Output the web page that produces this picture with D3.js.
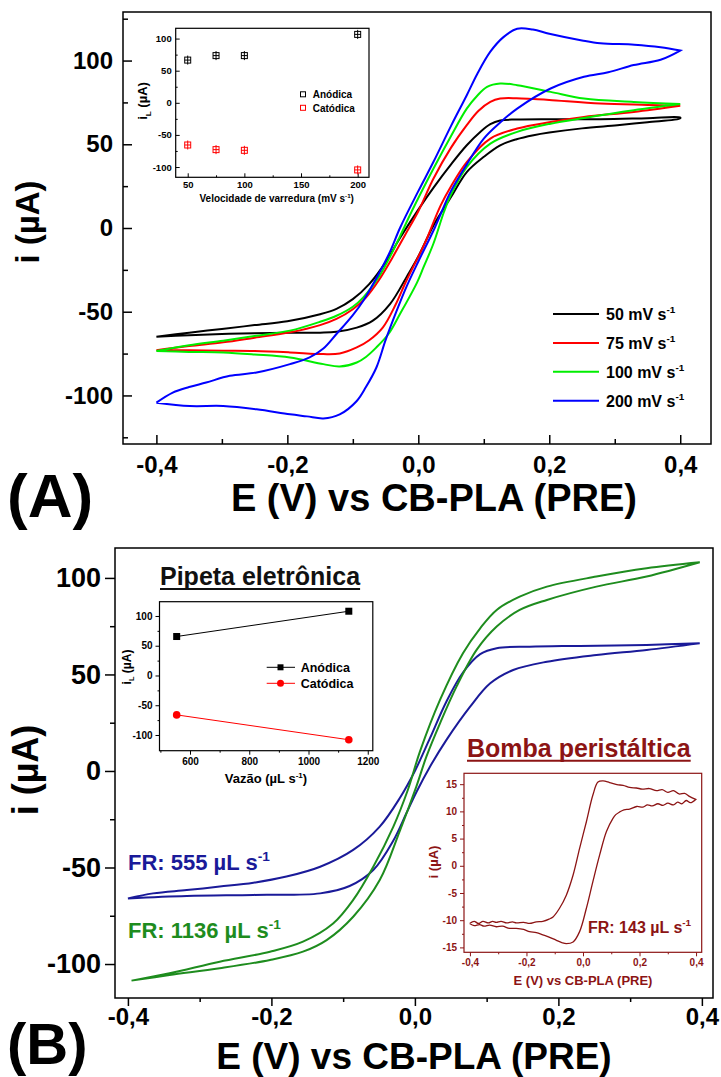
<!DOCTYPE html>
<html><head><meta charset="utf-8">
<script src="https://cdn.jsdelivr.net/npm/d3@7"></script>
<style>
body{margin:0;background:#fff}
svg{display:block}
</style>
</head><body>
<svg id="fig" width="721" height="1077"></svg>
<script>
// ---------- data ----------
// Potential tick values (V) and current ticks (µA)
const potentialTicks = [-0.4, -0.2, 0.0, 0.2, 0.4];
const potentialMinor = [-0.3, -0.1, 0.1, 0.3];
const currentTicks = [-100, -50, 0, 50, 100];
const currentMinorA = [-125, -75, -25, 25, 75, 125];
const currentMinorB = [-75, -25, 25, 75];

// (A) voltammograms at different scan rates: [E (V), i (µA)], forward then reverse branch
const cv50Fwd = [[-0.400,-65],[-0.350,-62.5],[-0.300,-60.3],[-0.250,-58.0],[-0.200,-55.7],[-0.150,-51.5],[-0.125,-48.3],[-0.100,-42.5],[-0.075,-33.5],[-0.050,-20.5],[-0.028,-6],[0.000,11],[0.023,24],[0.050,38],[0.074,49.4],[0.095,57.5],[0.110,62],[0.125,64.2],[0.150,64.8],[0.200,65.0],[0.278,65.0],[0.350,65.6],[0.400,66.0]];
const cv50Rev = [[0.400,65.5],[0.350,63.2],[0.304,61.4],[0.250,59.5],[0.200,57.0],[0.176,55.4],[0.150,53.0],[0.125,49.4],[0.100,42.5],[0.074,33.4],[0.050,18.5],[0.023,1.4],[0.000,-17],[-0.017,-28.6],[-0.043,-45.3],[-0.070,-55.5],[-0.094,-59.5],[-0.125,-62.0],[-0.150,-62.5],[-0.200,-62.6],[-0.250,-62.8],[-0.300,-63.3],[-0.350,-64.0],[-0.400,-65]];
const cv75Fwd = [[-0.400,-73],[-0.350,-70.5],[-0.298,-68.3],[-0.250,-65.5],[-0.196,-62.3],[-0.150,-58],[-0.125,-54.3],[-0.100,-48.5],[-0.080,-41.5],[-0.060,-31],[-0.040,-18],[-0.020,-4],[0.000,10],[0.023,29.4],[0.050,48],[0.074,61.4],[0.092,70],[0.110,75.3],[0.125,77.3],[0.150,77.5],[0.176,77],[0.200,76.5],[0.278,74.3],[0.350,73.5],[0.400,73]];
const cv75Rev = [[0.400,73],[0.329,69.3],[0.253,66.3],[0.202,63.3],[0.151,59.4],[0.110,53.4],[0.074,39.4],[0.050,25],[0.034,13.4],[0.010,-9],[-0.007,-22.6],[-0.020,-33],[-0.035,-46],[-0.054,-59.3],[-0.075,-67],[-0.094,-71.3],[-0.120,-74.9],[-0.145,-75.3],[-0.196,-74.3],[-0.250,-73.5],[-0.298,-73.3],[-0.350,-73],[-0.400,-73]];
const cv100Fwd = [[-0.400,-73.5],[-0.350,-70],[-0.298,-67.3],[-0.250,-64.5],[-0.196,-61.3],[-0.150,-56],[-0.125,-52.4],[-0.100,-47],[-0.084,-41.4],[-0.060,-29],[-0.043,-17],[-0.028,-5],[-0.010,10],[0.023,35.4],[0.050,55],[0.074,71.3],[0.090,79],[0.105,84.3],[0.125,86.3],[0.151,85.3],[0.202,81.3],[0.253,77.3],[0.329,75.3],[0.400,74]];
const cv100Rev = [[0.400,74],[0.329,70.3],[0.253,65.7],[0.202,62.3],[0.151,57.4],[0.110,50.4],[0.074,36.4],[0.050,20],[0.039,9.4],[0.023,-9.4],[0.008,-23.4],[-0.002,-32.6],[-0.028,-51.4],[-0.045,-63],[-0.064,-71.3],[-0.080,-77],[-0.094,-80.3],[-0.120,-82.7],[-0.145,-81.3],[-0.196,-77.3],[-0.250,-75.5],[-0.298,-74.3],[-0.350,-74],[-0.400,-73.5]];
const cv200Fwd = [[-0.400,-104.3],[-0.375,-98.3],[-0.350,-95],[-0.324,-92.3],[-0.288,-88.3],[-0.247,-86.3],[-0.196,-81.3],[-0.166,-77.3],[-0.145,-72],[-0.125,-63.3],[-0.100,-52],[-0.084,-43.4],[-0.060,-27],[-0.043,-14],[-0.028,0],[0.000,22],[0.023,39.4],[0.050,61],[0.074,79.3],[0.090,92],[0.110,105.3],[0.130,114],[0.151,119],[0.175,118.5],[0.200,116],[0.250,112],[0.278,110.3],[0.330,109.5],[0.370,108],[0.400,106]];
const cv200Rev = [[0.400,106],[0.370,100.5],[0.329,97.3],[0.290,93],[0.253,90.3],[0.202,83.3],[0.151,71.3],[0.125,63],[0.100,53.4],[0.074,38],[0.049,21.4],[0.025,0],[0.000,-20],[-0.018,-35],[-0.033,-49.4],[-0.050,-67],[-0.064,-83.3],[-0.080,-95],[-0.094,-103.3],[-0.120,-111.3],[-0.145,-113.7],[-0.170,-112.5],[-0.196,-111.3],[-0.247,-108.3],[-0.298,-106.3],[-0.349,-106.3],[-0.400,-104.3]];

const scanLabels = ["50", "75", "100", "200"];
const scanColors = ["#000000", "#ff0000", "#00ee00", "#0000ff"];

// (A) inset: limiting currents vs scan rate
const scanRates = [50, 75, 100, 200];
const anodicByRate = [66.5, 73.5, 73.5, 106.5];
const cathodicByRate = [-65.7, -72.9, -74, -104.5];
const rateTicks = [50, 100, 150, 200];
const rateMinor = [75, 125, 175];
const insetCurrentTicks = [-100, -50, 0, 50, 100];
const insetCurrentMinor = [-75, -25, 25, 75];

// (B) voltammograms at two flow rates (electronic pipette)
const fr555Fwd = [[-0.400,-66],[-0.365,-63.4],[-0.318,-61.7],[-0.272,-59.9],[-0.225,-57.9],[-0.179,-54.7],[-0.132,-49.6],[-0.086,-40.9],[-0.049,-28.8],[-0.021,-14],[0.000,0],[0.021,17],[0.044,36],[0.067,51],[0.091,60.5],[0.114,63.6],[0.160,64.4],[0.230,64.8],[0.323,65.3],[0.397,66.1]];
const fr555Rev = [[0.397,66.1],[0.323,62.7],[0.253,60.1],[0.184,56.6],[0.137,52.3],[0.105,45.4],[0.077,33.3],[0.044,16.1],[0.021,2.2],[0.002,-11],[-0.012,-22],[-0.030,-36],[-0.058,-51.3],[-0.091,-59.6],[-0.132,-63.4],[-0.225,-64.2],[-0.318,-64.8],[-0.400,-66]];
const fr1136Fwd = [[-0.395,-108.6],[-0.342,-104.8],[-0.272,-98.8],[-0.202,-93.6],[-0.156,-88.4],[-0.114,-79],[-0.086,-66.8],[-0.058,-49.6],[-0.030,-28.8],[-0.010,-10],[0.007,10],[0.035,36.8],[0.067,61],[0.091,73.9],[0.114,83.4],[0.146,90.3],[0.184,95.5],[0.253,100.7],[0.323,105],[0.397,108.1]];
const fr1136Rev = [[0.397,108.1],[0.323,100.7],[0.253,95.5],[0.184,88.6],[0.146,83.4],[0.114,74.8],[0.086,62.7],[0.058,43.7],[0.035,24.7],[0.016,7.4],[0.002,-8.1],[-0.021,-31],[-0.049,-56.5],[-0.086,-75.5],[-0.123,-87.6],[-0.156,-93.6],[-0.202,-97.9],[-0.272,-102.2],[-0.342,-105.7],[-0.395,-108.6]];

// (B) inset: limiting currents vs flow rate
const flowRates = [555, 1136];
const anodicByFlow = [65.5, 108];
const cathodicByFlow = [-66.2, -108];
const flowTicks = [600, 800, 1000, 1200];
const flowMinor = [500, 700, 900, 1100];

// (B) inset: peristaltic pump voltammogram, 143 µL s-1
const fr143Fwd = [[-0.401,-10.6],[-0.385,-10.2],[-0.370,-10.6],[-0.354,-10.2],[-0.335,-10.5],[-0.320,-10.2],[-0.307,-10.4],[-0.290,-10.2],[-0.270,-10.5],[-0.250,-10.3],[-0.236,-10.5],[-0.210,-10.4],[-0.189,-10.6],[-0.165,-10.3],[-0.142,-10.2],[-0.120,-9.8],[-0.106,-9.4],[-0.083,-7.8],[-0.059,-5.4],[-0.035,-1.7],[-0.012,3.2],[0.012,8.1],[0.035,13],[0.053,15.4],[0.071,15.6],[0.094,15.3],[0.120,14.9],[0.142,14.8],[0.165,14.4],[0.189,14.3],[0.210,14.1],[0.235,14.2],[0.260,13.8],[0.280,14.0],[0.300,13.5],[0.320,13.8],[0.340,13.2],[0.360,13.3],[0.378,12.7],[0.399,12.2]];
const fr143Rev = [[0.399,12.2],[0.380,11.6],[0.365,12.0],[0.350,11.4],[0.335,11.7],[0.320,11.2],[0.300,11.5],[0.283,11.1],[0.265,11.4],[0.245,11.0],[0.228,11.2],[0.212,10.8],[0.190,10.9],[0.165,10.4],[0.145,10.3],[0.130,9.9],[0.116,9.4],[0.106,8.7],[0.083,6.3],[0.059,2],[0.035,-2.9],[0.012,-7.8],[-0.012,-12.1],[-0.035,-14],[-0.059,-14.3],[-0.075,-14.1],[-0.094,-13.7],[-0.120,-13.1],[-0.142,-12.7],[-0.165,-12.3],[-0.189,-12.1],[-0.210,-11.7],[-0.236,-11.5],[-0.260,-11.5],[-0.285,-11.1],[-0.307,-11.2],[-0.330,-10.9],[-0.350,-11.1],[-0.366,-10.8],[-0.385,-11.0],[-0.401,-10.6]];
const pumpCurrentTicks = [-15, -10, -5, 0, 5, 10, 15];
const pumpCurrentMinor = [-12.5, -7.5, -2.5, 2.5, 7.5, 12.5];

// ---------- helpers ----------
const FONT = '"Liberation Sans", Arial, Helvetica, sans-serif';
const MAROON = "#8c1414";
const BLUE_B = "#1a1a99";
const GREEN_B = "#1e8c1e";
const commaLocale = d3.formatLocale({decimal: ",", thousands: ".", grouping: [3], currency: ["", ""], minus: "-"});
const fmtComma = commaLocale.format(".1f");
const fmtInt = commaLocale.format("d");

const svg = d3.select("#fig");
svg.append("rect").attr("width", 721).attr("height", 1077).attr("fill", "#fff");

function rich(sel, size, segs) {
  let shift = 0;
  segs.forEach(s => {
    const target = s.sup ? -0.42 * size : (s.sub ? 0.28 * size : 0);
    const ts = sel.append("tspan").text(s.t).attr("dy", target - shift);
    if (s.sup || s.sub) ts.attr("font-size", size * 0.62);
    shift = target;
  });
  return sel;
}

function label(g, x, y, size, segs, opts = {}) {
  const t = g.append("text")
    .attr("font-family", FONT).attr("font-weight", "bold")
    .attr("font-size", size).attr("fill", opts.color || "#000")
    .attr("text-anchor", opts.anchor || "start");
  if (opts.rotate) t.attr("transform", `translate(${x},${y}) rotate(-90)`);
  else t.attr("x", x).attr("y", y);
  return rich(t, size, typeof segs === "string" ? [{t: segs}] : segs);
}

function drawAxis(g, gen, tr, opts) {
  const a = g.append("g").attr("transform", tr).call(gen);
  a.attr("font-family", null).attr("font-size", null);
  a.select(".domain").remove();
  a.selectAll(".tick line").attr("stroke", opts.color || "#000").attr("stroke-width", opts.sw || 1.5);
  a.selectAll(".tick text").attr("fill", opts.color || "#000")
    .attr("font-size", opts.fs || 10).attr("font-family", FONT).attr("font-weight", "bold");
  return a;
}

function frame(g, x, y, color, sw) {
  const [x0, x1] = x.range(), [y0, y1] = y.range();
  g.append("rect").attr("x", x0).attr("y", y1).attr("width", x1 - x0).attr("height", y0 - y1)
    .attr("fill", "none").attr("stroke", color || "#000").attr("stroke-width", sw || 1.5);
}

function loopLine(x, y) {
  return d3.line().x(d => x(d[0])).y(d => y(d[1])).curve(d3.curveCatmullRom.alpha(0.5));
}

function underlinedTitle(g, x, y, size, text, color) {
  const t = label(g, x, y, size, text, {color});
  const w = t.node().getComputedTextLength();
  g.append("line").attr("x1", x).attr("x2", x + w).attr("y1", y + 4).attr("y2", y + 4)
    .attr("stroke", color).attr("stroke-width", 2);
}

// ---------- panel (A) ----------
const gA = svg.append("g");
const xA = d3.scaleLinear().domain([-0.451, 0.447]).range([123, 711]);
const yA = d3.scaleLinear().domain([-129, 129]).range([444, 12]);

drawAxis(gA, d3.axisBottom(xA).tickValues(potentialTicks).tickSize(-9).tickPadding(12).tickFormat(fmtComma), `translate(0,${yA.range()[0]})`, {fs: 24});
drawAxis(gA, d3.axisBottom(xA).tickValues(potentialMinor).tickSize(-5).tickFormat(""), `translate(0,${yA.range()[0]})`, {});
drawAxis(gA, d3.axisLeft(yA).tickValues(currentTicks).tickSize(-9).tickPadding(10).tickFormat(fmtInt), `translate(${xA.range()[0]},0)`, {fs: 24});
drawAxis(gA, d3.axisLeft(yA).tickValues(currentMinorA).tickSize(-5).tickFormat(""), `translate(${xA.range()[0]},0)`, {});

const cvA = [cv50Fwd.concat(cv50Rev), cv75Fwd.concat(cv75Rev), cv100Fwd.concat(cv100Rev), cv200Fwd.concat(cv200Rev)];
const lineA = loopLine(xA, yA);
gA.selectAll("path.cvA").data(cvA).join("path").attr("class", "cvA")
  .attr("d", lineA).attr("fill", "none").attr("stroke", (d, i) => scanColors[i]).attr("stroke-width", 2);

frame(gA, xA, yA);

// legend
const legY = d3.scalePoint().domain(scanLabels).range([314, 400.7]);
scanLabels.forEach((s, i) => {
  gA.append("line").attr("x1", 553).attr("x2", 599).attr("y1", legY(s)).attr("y2", legY(s))
    .attr("stroke", scanColors[i]).attr("stroke-width", 2);
  label(gA, 606, legY(s) + 6, 16, [{t: s + " mV s"}, {t: "-1", sup: true}]);
});

label(gA, 39, 222, 33, "i (µA)", {rotate: true, anchor: "middle"});
label(gA, 434, 511, 38, "E (V) vs CB-PLA (PRE)", {anchor: "middle"});
label(gA, 7, 517, 62, "(A)");

// inset (A)
const gAi = svg.append("g");
const xAi = d3.scaleLinear().domain([39.4, 210]).range([175.7, 369]);
const yAi = d3.scaleLinear().domain([-116, 116]).range([177.3, 28.3]);
drawAxis(gAi, d3.axisBottom(xAi).tickValues(rateTicks).tickSize(-4).tickPadding(4).tickFormat(fmtInt), `translate(0,${yAi.range()[0]})`, {fs: 9.5, sw: 1});
drawAxis(gAi, d3.axisBottom(xAi).tickValues(rateMinor).tickSize(-2).tickFormat(""), `translate(0,${yAi.range()[0]})`, {sw: 1});
drawAxis(gAi, d3.axisLeft(yAi).tickValues(insetCurrentTicks).tickSize(-4).tickPadding(4).tickFormat(fmtInt), `translate(${xAi.range()[0]},0)`, {fs: 9.5, sw: 1});
drawAxis(gAi, d3.axisLeft(yAi).tickValues(insetCurrentMinor).tickSize(-2).tickFormat(""), `translate(${xAi.range()[0]},0)`, {sw: 1});
frame(gAi, xAi, yAi, "#000", 1.2);

function errMarker(g, cx, cy, color) {
  g.append("rect").attr("x", cx - 3).attr("y", cy - 3).attr("width", 6).attr("height", 6)
    .attr("fill", "none").attr("stroke", color).attr("stroke-width", 1);
  g.append("line").attr("x1", cx).attr("x2", cx).attr("y1", cy - 4.5).attr("y2", cy + 4.5).attr("stroke", color).attr("stroke-width", 1);
  g.append("line").attr("x1", cx - 3).attr("x2", cx + 3).attr("y1", cy).attr("y2", cy).attr("stroke", color).attr("stroke-width", 1);
}
scanRates.forEach((r, i) => {
  errMarker(gAi, xAi(r), yAi(anodicByRate[i]), "#000");
  errMarker(gAi, xAi(r), yAi(cathodicByRate[i]), "#ff0000");
});
gAi.append("rect").attr("x", 300.5).attr("y", 91.8).attr("width", 5).attr("height", 5).attr("fill", "none").attr("stroke", "#000").attr("stroke-width", 1);
gAi.append("rect").attr("x", 300.5).attr("y", 105.3).attr("width", 5).attr("height", 5).attr("fill", "none").attr("stroke", "#ff0000").attr("stroke-width", 1);
label(gAi, 312.7, 98, 10, "Anódica");
label(gAi, 312.7, 111.5, 10, "Catódica");
label(gAi, 276.7, 202, 10, [{t: "Velocidade de varredura (mV s"}, {t: "-1", sup: true}, {t: ")"}], {anchor: "middle"});
label(gAi, 147, 101, 13, [{t: "i"}, {t: "L", sub: true}, {t: " (µA)"}], {rotate: true, anchor: "middle"});

// ---------- panel (B) ----------
const gB = svg.append("g");
const xB = d3.scaleLinear().domain([-0.418, 0.4155]).range([115, 713]);
const yB = d3.scaleLinear().domain([-117.6, 115.5]).range([998, 548]);

drawAxis(gB, d3.axisBottom(xB).tickValues(potentialTicks).tickSize(8).tickPadding(2).tickFormat(fmtComma), `translate(0,${yB.range()[0]})`, {fs: 24});
drawAxis(gB, d3.axisBottom(xB).tickValues(potentialMinor).tickSize(4).tickFormat(""), `translate(0,${yB.range()[0]})`, {});
drawAxis(gB, d3.axisLeft(yB).tickValues(currentTicks).tickSize(10).tickPadding(4).tickFormat(fmtInt), `translate(${xB.range()[0]},0)`, {fs: 27});
drawAxis(gB, d3.axisLeft(yB).tickValues(currentMinorB).tickSize(5).tickFormat(""), `translate(${xB.range()[0]},0)`, {});

const lineB = loopLine(xB, yB);
gB.append("path").datum(fr555Fwd.concat(fr555Rev)).attr("d", lineB).attr("fill", "none").attr("stroke", BLUE_B).attr("stroke-width", 2);
gB.append("path").datum(fr1136Fwd.concat(fr1136Rev)).attr("d", lineB).attr("fill", "none").attr("stroke", GREEN_B).attr("stroke-width", 2);
frame(gB, xB, yB);

label(gB, 128, 870, 22, [{t: "FR: 555 µL s"}, {t: "-1", sup: true}], {color: BLUE_B});
label(gB, 128, 938, 22, [{t: "FR: 1136 µL s"}, {t: "-1", sup: true}], {color: GREEN_B});

label(gB, 38, 770, 36, "i (µA)", {rotate: true, anchor: "middle"});
label(gB, 414, 1069, 37, "E (V) vs CB-PLA (PRE)", {anchor: "middle"});
label(gB, 7, 1064, 58, "(B)");

// inset (B): limiting current vs flow rate
const gBi = svg.append("g");
const xBi = d3.scaleLinear().domain([497, 1217]).range([159.5, 372.8]);
const yBi = d3.scaleLinear().domain([-126.4, 124]).range([750.7, 601.7]);
drawAxis(gBi, d3.axisBottom(xBi).tickValues(flowTicks).tickSize(4).tickPadding(3).tickFormat(fmtInt), `translate(0,${yBi.range()[0]})`, {fs: 10, sw: 1});
drawAxis(gBi, d3.axisBottom(xBi).tickValues(flowMinor).tickSize(2).tickFormat(""), `translate(0,${yBi.range()[0]})`, {sw: 1});
drawAxis(gBi, d3.axisLeft(yBi).tickValues(insetCurrentTicks).tickSize(4).tickPadding(3).tickFormat(fmtInt), `translate(${xBi.range()[0]},0)`, {fs: 10, sw: 1});
drawAxis(gBi, d3.axisLeft(yBi).tickValues(insetCurrentMinor).tickSize(2).tickFormat(""), `translate(${xBi.range()[0]},0)`, {sw: 1});
frame(gBi, xBi, yBi, "#000", 1.2);

const anLine = flowRates.map((f, i) => [f, anodicByFlow[i]]);
const caLine = flowRates.map((f, i) => [f, cathodicByFlow[i]]);
const straight = d3.line().x(d => xBi(d[0])).y(d => yBi(d[1]));
gBi.append("path").datum(anLine).attr("d", straight).attr("stroke", "#000").attr("stroke-width", 1).attr("fill", "none");
gBi.append("path").datum(caLine).attr("d", straight).attr("stroke", "#ff0000").attr("stroke-width", 1).attr("fill", "none");
gBi.selectAll("rect.an").data(anLine).join("rect").attr("class", "an")
  .attr("x", d => xBi(d[0]) - 3.5).attr("y", d => yBi(d[1]) - 3.5).attr("width", 7).attr("height", 7).attr("fill", "#000");
gBi.selectAll("circle.ca").data(caLine).join("circle").attr("class", "ca")
  .attr("cx", d => xBi(d[0])).attr("cy", d => yBi(d[1])).attr("r", 3.8).attr("fill", "#ff0000");
// legend
gBi.append("line").attr("x1", 266.7).attr("x2", 295).attr("y1", 667.3).attr("y2", 667.3).attr("stroke", "#000").attr("stroke-width", 1);
gBi.append("rect").attr("x", 277.5).attr("y", 664.3).attr("width", 6).attr("height", 6).attr("fill", "#000");
gBi.append("line").attr("x1", 266.7).attr("x2", 295).attr("y1", 683.3).attr("y2", 683.3).attr("stroke", "#ff0000").attr("stroke-width", 1);
gBi.append("circle").attr("cx", 280.5).attr("cy", 683.3).attr("r", 3.5).attr("fill", "#ff0000");
label(gBi, 300.7, 672, 12.5, "Anódica");
label(gBi, 300.7, 688, 12.5, "Catódica");
label(gBi, 266, 783, 13, [{t: "Vazão (µL s"}, {t: "-1", sup: true}, {t: ")"}], {anchor: "middle"});
label(gBi, 131, 667, 12, [{t: "i"}, {t: "L", sub: true}, {t: " (µA)"}], {rotate: true, anchor: "middle"});
underlinedTitle(gBi, 160, 585, 25, "Pipeta eletrônica", "#111");

// inset (B): peristaltic pump
const gBp = svg.append("g");
const xBp = d3.scaleLinear().domain([-0.421, 0.42]).range([464, 701.7]);
const yBp = d3.scaleLinear().domain([-15.9, 17]).range([952.3, 773.3]);
gBp.append("rect").attr("x", 464).attr("y", 773.3).attr("width", 237.7).attr("height", 179).attr("fill", "#fff");
drawAxis(gBp, d3.axisBottom(xBp).tickValues(potentialTicks).tickSize(4).tickPadding(3).tickFormat(fmtComma), `translate(0,${yBp.range()[0]})`, {fs: 10, sw: 1, color: MAROON});
drawAxis(gBp, d3.axisBottom(xBp).tickValues(potentialMinor).tickSize(2).tickFormat(""), `translate(0,${yBp.range()[0]})`, {sw: 1, color: MAROON});
drawAxis(gBp, d3.axisLeft(yBp).tickValues(pumpCurrentTicks).tickSize(4).tickPadding(3).tickFormat(fmtInt), `translate(${xBp.range()[0]},0)`, {fs: 10, sw: 1, color: MAROON});
drawAxis(gBp, d3.axisLeft(yBp).tickValues(pumpCurrentMinor).tickSize(2).tickFormat(""), `translate(${xBp.range()[0]},0)`, {sw: 1, color: MAROON});
gBp.append("path").datum(fr143Fwd.concat(fr143Rev)).attr("d", loopLine(xBp, yBp))
  .attr("fill", "none").attr("stroke", MAROON).attr("stroke-width", 1.3);
frame(gBp, xBp, yBp, MAROON, 1.2);
label(gBp, 588, 933, 16, [{t: "FR: 143 µL s"}, {t: "-1", sup: true}], {color: MAROON});
label(gBp, 438, 862, 13, "i (µA)", {rotate: true, anchor: "middle", color: MAROON});
label(gBp, 583, 985, 13, "E (V) vs CB-PLA (PRE)", {anchor: "middle", color: MAROON});
underlinedTitle(gBp, 467, 756.7, 25, "Bomba peristáltica", MAROON);
</script>
</body></html>
